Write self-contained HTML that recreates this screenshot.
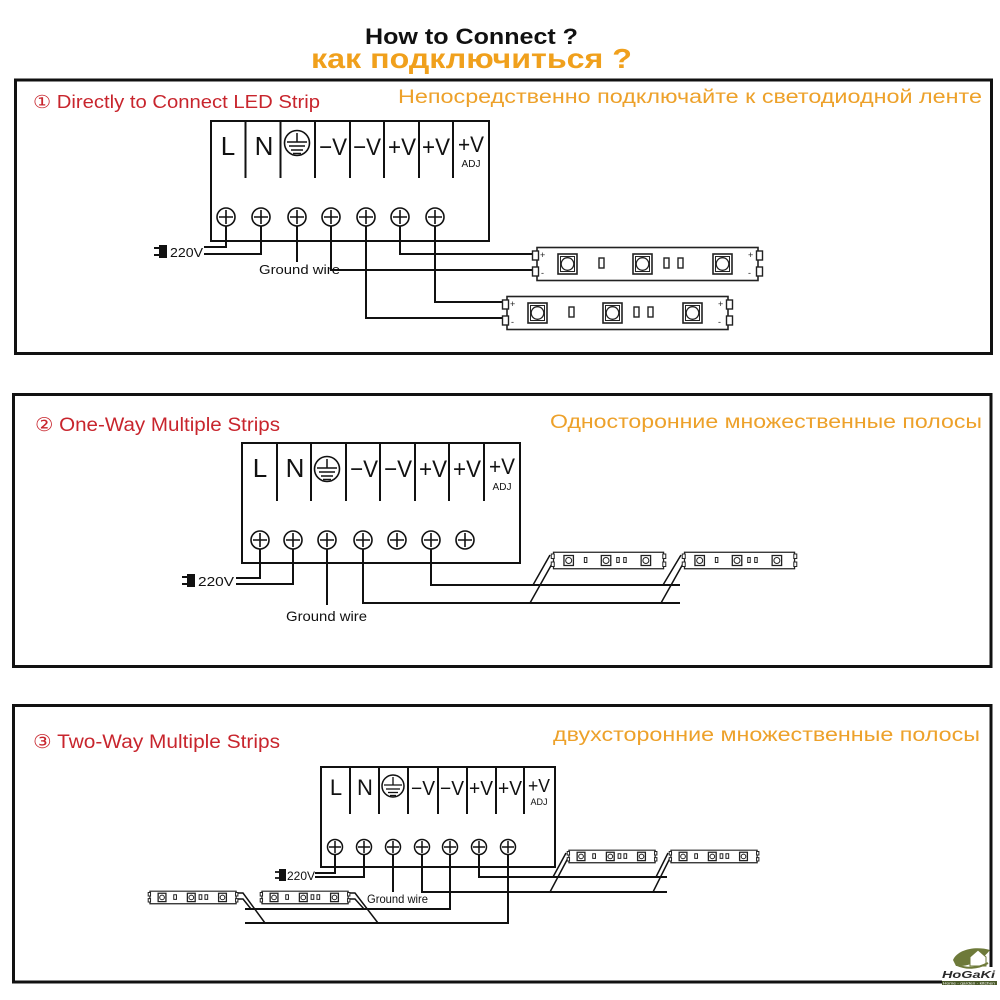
<!DOCTYPE html>
<html><head><meta charset="utf-8"><style>
html,body{margin:0;padding:0;background:#fff;}
svg{display:block;}
text{font-family:"Liberation Sans","DejaVu Sans",sans-serif;}
</style></head><body>
<svg width="1000" height="1000" viewBox="0 0 1000 1000" xmlns="http://www.w3.org/2000/svg">
<rect width="1000" height="1000" fill="#fff"/>

<!-- Titles -->
<text x="365" y="44" font-size="22" font-weight="bold" fill="#111" textLength="213" lengthAdjust="spacingAndGlyphs">How to Connect ?</text>
<text x="311" y="68" font-size="28" font-weight="bold" fill="#f0a01c" textLength="321" lengthAdjust="spacingAndGlyphs">как подключиться ?</text>

<!-- Panel frames -->
<rect x="15.5" y="80" width="976" height="273.5" fill="none" stroke="#111" stroke-width="3"/>
<rect x="13.5" y="394.5" width="977.5" height="272" fill="none" stroke="#111" stroke-width="3"/>
<rect x="13.5" y="705.5" width="977.5" height="276.5" fill="none" stroke="#111" stroke-width="3"/>

<!-- Panel titles -->
<text x="33" y="108" font-size="18" fill="#c8252d" textLength="287" lengthAdjust="spacingAndGlyphs">① Directly to Connect LED Strip</text>
<text x="398" y="103" font-size="19" fill="#eda12a" textLength="584" lengthAdjust="spacingAndGlyphs">Непосредственно подключайте к светодиодной ленте</text>
<text x="35" y="431" font-size="19" fill="#c8252d" textLength="245" lengthAdjust="spacingAndGlyphs">② One-Way Multiple Strips</text>
<text x="550" y="428" font-size="19" fill="#eda12a" textLength="432" lengthAdjust="spacingAndGlyphs">Односторонние множественные полосы</text>
<text x="33" y="748" font-size="19" fill="#c8252d" textLength="247" lengthAdjust="spacingAndGlyphs">③ Two-Way Multiple Strips</text>
<text x="553" y="741" font-size="19" fill="#eda12a" textLength="427" lengthAdjust="spacingAndGlyphs">двухсторонние множественные полосы</text>

<!-- ============ PANEL 1 ============ -->
<g stroke="#111" fill="none">
<rect x="211" y="121" width="278" height="120" stroke-width="2"/>
<g stroke-width="2">
<line x1="245.5" y1="121" x2="245.5" y2="178"/>
<line x1="280.5" y1="121" x2="280.5" y2="178"/>
<line x1="315" y1="121" x2="315" y2="178"/>
<line x1="350" y1="121" x2="350" y2="178"/>
<line x1="384" y1="121" x2="384" y2="178"/>
<line x1="419" y1="121" x2="419" y2="178"/>
<line x1="453" y1="121" x2="453" y2="178"/>
</g>
<circle cx="297" cy="143" r="12.5" stroke-width="1.6"/>
<g stroke-width="1.5">
<line x1="297" y1="133" x2="297" y2="142"/>
<line x1="287" y1="142" x2="307" y2="142"/>
<line x1="289" y1="146" x2="305" y2="146"/>
<line x1="291" y1="150" x2="303" y2="150"/>
<line x1="293" y1="153.5" x2="301" y2="153.5"/>
</g>
<g stroke-width="1.6">
<circle cx="226" cy="217" r="9"/><path d="M219 217h14M226 210v14"/>
<circle cx="261" cy="217" r="9"/><path d="M254 217h14M261 210v14"/>
<circle cx="297" cy="217" r="9"/><path d="M290 217h14M297 210v14"/>
<circle cx="331" cy="217" r="9"/><path d="M324 217h14M331 210v14"/>
<circle cx="366" cy="217" r="9"/><path d="M359 217h14M366 210v14"/>
<circle cx="400" cy="217" r="9"/><path d="M393 217h14M400 210v14"/>
<circle cx="435" cy="217" r="9"/><path d="M428 217h14M435 210v14"/>
</g>
<g stroke-width="2">
<polyline points="226,226 226,247 204,247"/>
<polyline points="261,226 261,254 204,254"/>
<polyline points="297,226 297,262"/>
<polyline points="331,226 331,270 533,270"/>
<polyline points="366,226 366,318 503,318"/>
<polyline points="400,226 400,254 533,254"/>
<polyline points="435,226 435,302 503,302"/>
</g>
</g>
<g fill="#111" text-anchor="middle">
<text x="228" y="155" font-size="26">L</text>
<text x="264" y="155" font-size="26">N</text>
<text x="333" y="155" font-size="24" textLength="28" lengthAdjust="spacingAndGlyphs">−V</text>
<text x="367" y="155" font-size="24" textLength="28" lengthAdjust="spacingAndGlyphs">−V</text>
<text x="402" y="155" font-size="24" textLength="28" lengthAdjust="spacingAndGlyphs">+V</text>
<text x="436" y="155" font-size="24" textLength="28" lengthAdjust="spacingAndGlyphs">+V</text>
<text x="471" y="152" font-size="22" textLength="26" lengthAdjust="spacingAndGlyphs">+V</text>
<text x="471" y="167" font-size="10">ADJ</text>
</g>
<rect x="159" y="245" width="8" height="13" fill="#111"/>
<path d="M154 248h5M154 255h5" stroke="#111" stroke-width="2"/>
<text x="170" y="257" font-size="13" fill="#111" textLength="33" lengthAdjust="spacingAndGlyphs">220V</text>
<text x="259" y="274" font-size="13" fill="#111" textLength="81" lengthAdjust="spacingAndGlyphs">Ground wire</text>

<!-- Panel 1 strips -->
<g transform="translate(532,247)" stroke="#222" fill="#fff">
<rect x="5" y="0.5" width="221" height="33" stroke-width="1.6"/>
<rect x="0.5" y="4" width="6" height="9" stroke-width="1.4"/>
<rect x="0.5" y="20" width="6" height="9" stroke-width="1.4"/>
<rect x="224.5" y="4" width="6" height="9" stroke-width="1.4"/>
<rect x="224.5" y="20" width="6" height="9" stroke-width="1.4"/>
<rect x="26" y="7" width="19" height="20" stroke-width="1.6"/><rect x="28.5" y="9.5" width="14" height="15" stroke-width="1"/><circle cx="35.5" cy="17" r="6.3" stroke-width="1.3"/>
<rect x="101" y="7" width="19" height="20" stroke-width="1.6"/><rect x="103.5" y="9.5" width="14" height="15" stroke-width="1"/><circle cx="110.5" cy="17" r="6.3" stroke-width="1.3"/>
<rect x="181" y="7" width="19" height="20" stroke-width="1.6"/><rect x="183.5" y="9.5" width="14" height="15" stroke-width="1"/><circle cx="190.5" cy="17" r="6.3" stroke-width="1.3"/>
<rect x="67" y="11" width="5" height="10" stroke-width="1.4"/>
<rect x="132" y="11" width="5" height="10" stroke-width="1.4"/>
<rect x="146" y="11" width="5" height="10" stroke-width="1.4"/>
<g stroke="none" fill="#222" font-size="9"><text x="8" y="11">+</text><text x="9" y="29">-</text><text x="216" y="11">+</text><text x="216" y="29">-</text></g>
</g>
<g transform="translate(502,296)" stroke="#222" fill="#fff">
<rect x="5" y="0.5" width="221" height="33" stroke-width="1.6"/>
<rect x="0.5" y="4" width="6" height="9" stroke-width="1.4"/>
<rect x="0.5" y="20" width="6" height="9" stroke-width="1.4"/>
<rect x="224.5" y="4" width="6" height="9" stroke-width="1.4"/>
<rect x="224.5" y="20" width="6" height="9" stroke-width="1.4"/>
<rect x="26" y="7" width="19" height="20" stroke-width="1.6"/><rect x="28.5" y="9.5" width="14" height="15" stroke-width="1"/><circle cx="35.5" cy="17" r="6.3" stroke-width="1.3"/>
<rect x="101" y="7" width="19" height="20" stroke-width="1.6"/><rect x="103.5" y="9.5" width="14" height="15" stroke-width="1"/><circle cx="110.5" cy="17" r="6.3" stroke-width="1.3"/>
<rect x="181" y="7" width="19" height="20" stroke-width="1.6"/><rect x="183.5" y="9.5" width="14" height="15" stroke-width="1"/><circle cx="190.5" cy="17" r="6.3" stroke-width="1.3"/>
<rect x="67" y="11" width="5" height="10" stroke-width="1.4"/>
<rect x="132" y="11" width="5" height="10" stroke-width="1.4"/>
<rect x="146" y="11" width="5" height="10" stroke-width="1.4"/>
<g stroke="none" fill="#222" font-size="9"><text x="8" y="11">+</text><text x="9" y="29">-</text><text x="216" y="11">+</text><text x="216" y="29">-</text></g>
</g>

<!-- ============ PANEL 2 ============ -->
<g stroke="#111" fill="none">
<rect x="242" y="443" width="278" height="120" stroke-width="2"/>
<g stroke-width="2">
<line x1="277" y1="443" x2="277" y2="501"/>
<line x1="311" y1="443" x2="311" y2="501"/>
<line x1="346" y1="443" x2="346" y2="501"/>
<line x1="380" y1="443" x2="380" y2="501"/>
<line x1="415" y1="443" x2="415" y2="501"/>
<line x1="449" y1="443" x2="449" y2="501"/>
<line x1="484" y1="443" x2="484" y2="501"/>
</g>
<circle cx="327" cy="469" r="12.5" stroke-width="1.6"/>
<g stroke-width="1.5">
<line x1="327" y1="459" x2="327" y2="468"/>
<line x1="317" y1="468" x2="337" y2="468"/>
<line x1="319" y1="472" x2="335" y2="472"/>
<line x1="321" y1="476" x2="333" y2="476"/>
<line x1="323" y1="479.5" x2="331" y2="479.5"/>
</g>
<g stroke-width="1.6">
<circle cx="260" cy="540" r="9"/><path d="M253 540h14M260 533v14"/>
<circle cx="293" cy="540" r="9"/><path d="M286 540h14M293 533v14"/>
<circle cx="327" cy="540" r="9"/><path d="M320 540h14M327 533v14"/>
<circle cx="363" cy="540" r="9"/><path d="M356 540h14M363 533v14"/>
<circle cx="397" cy="540" r="9"/><path d="M390 540h14M397 533v14"/>
<circle cx="431" cy="540" r="9"/><path d="M424 540h14M431 533v14"/>
<circle cx="465" cy="540" r="9"/><path d="M458 540h14M465 533v14"/>
</g>
<g stroke-width="2">
<polyline points="260,549 260,578 236,578"/>
<polyline points="293,549 293,584 236,584"/>
<polyline points="327,549 327,605"/>
<polyline points="363,549 363,603 680,603"/>
<polyline points="431,549 431,585 680,585"/>
</g>
<g stroke-width="1.5">
<line x1="550" y1="555" x2="533" y2="585"/>
<line x1="553" y1="562" x2="530" y2="603"/>
<line x1="681" y1="555" x2="663" y2="585"/>
<line x1="684" y1="562" x2="661" y2="603"/>
</g>
</g>
<g fill="#111" text-anchor="middle">
<text x="260" y="477" font-size="26">L</text>
<text x="295" y="477" font-size="26">N</text>
<text x="364" y="477" font-size="24" textLength="28" lengthAdjust="spacingAndGlyphs">−V</text>
<text x="398" y="477" font-size="24" textLength="28" lengthAdjust="spacingAndGlyphs">−V</text>
<text x="433" y="477" font-size="24" textLength="28" lengthAdjust="spacingAndGlyphs">+V</text>
<text x="467" y="477" font-size="24" textLength="28" lengthAdjust="spacingAndGlyphs">+V</text>
<text x="502" y="474" font-size="22" textLength="26" lengthAdjust="spacingAndGlyphs">+V</text>
<text x="502" y="490" font-size="10">ADJ</text>
</g>
<rect x="187" y="574" width="8" height="13" fill="#111"/>
<path d="M182 577h5M182 584h5" stroke="#111" stroke-width="2"/>
<text x="198" y="586" font-size="13" fill="#111" textLength="36" lengthAdjust="spacingAndGlyphs">220V</text>
<text x="286" y="621" font-size="14" fill="#111" textLength="81" lengthAdjust="spacingAndGlyphs">Ground wire</text>

<!-- Panel 2 strips -->
<g transform="translate(551,552) scale(0.498,0.5)" stroke="#222" fill="#fff">
<rect x="5" y="0.5" width="221" height="33" stroke-width="1.3" vector-effect="non-scaling-stroke"/>
<rect x="0.5" y="4" width="6" height="9" stroke-width="1" vector-effect="non-scaling-stroke"/>
<rect x="0.5" y="20" width="6" height="9" stroke-width="1" vector-effect="non-scaling-stroke"/>
<rect x="224.5" y="4" width="6" height="9" stroke-width="1" vector-effect="non-scaling-stroke"/>
<rect x="224.5" y="20" width="6" height="9" stroke-width="1" vector-effect="non-scaling-stroke"/>
<rect x="26" y="7" width="19" height="20" stroke-width="1.3" vector-effect="non-scaling-stroke"/><circle cx="35.5" cy="17" r="6" stroke-width="1" vector-effect="non-scaling-stroke"/>
<rect x="101" y="7" width="19" height="20" stroke-width="1.3" vector-effect="non-scaling-stroke"/><circle cx="110.5" cy="17" r="6" stroke-width="1" vector-effect="non-scaling-stroke"/>
<rect x="181" y="7" width="19" height="20" stroke-width="1.3" vector-effect="non-scaling-stroke"/><circle cx="190.5" cy="17" r="6" stroke-width="1" vector-effect="non-scaling-stroke"/>
<rect x="67" y="11" width="5" height="10" stroke-width="1" vector-effect="non-scaling-stroke"/>
<rect x="132" y="11" width="5" height="10" stroke-width="1" vector-effect="non-scaling-stroke"/>
<rect x="146" y="11" width="5" height="10" stroke-width="1" vector-effect="non-scaling-stroke"/>
</g>
<g transform="translate(682,552) scale(0.498,0.5)" stroke="#222" fill="#fff">
<rect x="5" y="0.5" width="221" height="33" stroke-width="1.3" vector-effect="non-scaling-stroke"/>
<rect x="0.5" y="4" width="6" height="9" stroke-width="1" vector-effect="non-scaling-stroke"/>
<rect x="0.5" y="20" width="6" height="9" stroke-width="1" vector-effect="non-scaling-stroke"/>
<rect x="224.5" y="4" width="6" height="9" stroke-width="1" vector-effect="non-scaling-stroke"/>
<rect x="224.5" y="20" width="6" height="9" stroke-width="1" vector-effect="non-scaling-stroke"/>
<rect x="26" y="7" width="19" height="20" stroke-width="1.3" vector-effect="non-scaling-stroke"/><circle cx="35.5" cy="17" r="6" stroke-width="1" vector-effect="non-scaling-stroke"/>
<rect x="101" y="7" width="19" height="20" stroke-width="1.3" vector-effect="non-scaling-stroke"/><circle cx="110.5" cy="17" r="6" stroke-width="1" vector-effect="non-scaling-stroke"/>
<rect x="181" y="7" width="19" height="20" stroke-width="1.3" vector-effect="non-scaling-stroke"/><circle cx="190.5" cy="17" r="6" stroke-width="1" vector-effect="non-scaling-stroke"/>
<rect x="67" y="11" width="5" height="10" stroke-width="1" vector-effect="non-scaling-stroke"/>
<rect x="132" y="11" width="5" height="10" stroke-width="1" vector-effect="non-scaling-stroke"/>
<rect x="146" y="11" width="5" height="10" stroke-width="1" vector-effect="non-scaling-stroke"/>
</g>

<!-- ============ PANEL 3 ============ -->
<g stroke="#111" fill="none">
<rect x="321" y="767" width="234" height="100" stroke-width="2"/>
<g stroke-width="2">
<line x1="350" y1="767" x2="350" y2="814"/>
<line x1="379" y1="767" x2="379" y2="814"/>
<line x1="408" y1="767" x2="408" y2="814"/>
<line x1="438" y1="767" x2="438" y2="814"/>
<line x1="467" y1="767" x2="467" y2="814"/>
<line x1="496" y1="767" x2="496" y2="814"/>
<line x1="524" y1="767" x2="524" y2="814"/>
</g>
<circle cx="393" cy="786" r="11" stroke-width="1.5"/>
<g stroke-width="1.3">
<line x1="393" y1="777" x2="393" y2="785"/>
<line x1="384" y1="785" x2="402" y2="785"/>
<line x1="386" y1="789" x2="400" y2="789"/>
<line x1="388" y1="792.5" x2="398" y2="792.5"/>
<line x1="390" y1="795.5" x2="396" y2="795.5"/>
</g>
<g stroke-width="1.5">
<circle cx="335" cy="847" r="7.5"/><path d="M329 847h12M335 841v12"/>
<circle cx="364" cy="847" r="7.5"/><path d="M358 847h12M364 841v12"/>
<circle cx="393" cy="847" r="7.5"/><path d="M387 847h12M393 841v12"/>
<circle cx="422" cy="847" r="7.5"/><path d="M416 847h12M422 841v12"/>
<circle cx="450" cy="847" r="7.5"/><path d="M444 847h12M450 841v12"/>
<circle cx="479" cy="847" r="7.5"/><path d="M473 847h12M479 841v12"/>
<circle cx="508" cy="847" r="7.5"/><path d="M502 847h12M508 841v12"/>
</g>
<g stroke-width="2">
<polyline points="335,855 335,873 315,873"/>
<polyline points="364,855 364,877 315,877"/>
<polyline points="393,855 393,892"/>
<polyline points="422,855 422,892 667,892"/>
<polyline points="450,855 450,909 245,909"/>
<polyline points="479,855 479,877 667,877"/>
<polyline points="508,855 508,923 245,923"/>
</g>
<g stroke-width="1.5">
<polyline points="238,893 243,893 265,923"/>
<polyline points="238,899 243,899 251,909"/>
<polyline points="350,893 355,893 378,923"/>
<polyline points="350,899 355,899 364,909"/>
<line x1="566" y1="853" x2="553" y2="877"/>
<line x1="568" y1="858" x2="550" y2="892"/>
<line x1="668" y1="853" x2="656" y2="877"/>
<line x1="670" y1="858" x2="653" y2="892"/>
</g>
</g>
<g fill="#111" text-anchor="middle">
<text x="336" y="795" font-size="22">L</text>
<text x="365" y="795" font-size="22">N</text>
<text x="423" y="795" font-size="20" textLength="24" lengthAdjust="spacingAndGlyphs">−V</text>
<text x="452" y="795" font-size="20" textLength="24" lengthAdjust="spacingAndGlyphs">−V</text>
<text x="481" y="795" font-size="20" textLength="24" lengthAdjust="spacingAndGlyphs">+V</text>
<text x="510" y="795" font-size="20" textLength="24" lengthAdjust="spacingAndGlyphs">+V</text>
<text x="539" y="792" font-size="18" textLength="22" lengthAdjust="spacingAndGlyphs">+V</text>
<text x="539" y="805" font-size="9">ADJ</text>
</g>
<rect x="279" y="869" width="7" height="12" fill="#111"/>
<path d="M275 872h4M275 878h4" stroke="#111" stroke-width="1.8"/>
<text x="287" y="880" font-size="12" fill="#111" textLength="28" lengthAdjust="spacingAndGlyphs">220V</text>
<text x="367" y="903" font-size="12" fill="#111" textLength="61" lengthAdjust="spacingAndGlyphs">Ground wire</text>

<!-- Panel 3 strips -->
<g transform="translate(148,891) scale(0.39,0.38)" stroke="#222" fill="#fff">
<rect x="5" y="0.5" width="221" height="33" stroke-width="1.2" vector-effect="non-scaling-stroke"/>
<rect x="0.5" y="4" width="6" height="9" stroke-width="1" vector-effect="non-scaling-stroke"/>
<rect x="0.5" y="20" width="6" height="9" stroke-width="1" vector-effect="non-scaling-stroke"/>
<rect x="224.5" y="4" width="6" height="9" stroke-width="1" vector-effect="non-scaling-stroke"/>
<rect x="224.5" y="20" width="6" height="9" stroke-width="1" vector-effect="non-scaling-stroke"/>
<rect x="26" y="6" width="20" height="22" stroke-width="1.3" vector-effect="non-scaling-stroke"/><circle cx="36" cy="17" r="6" stroke-width="1" vector-effect="non-scaling-stroke"/>
<rect x="101" y="6" width="20" height="22" stroke-width="1.3" vector-effect="non-scaling-stroke"/><circle cx="111" cy="17" r="6" stroke-width="1" vector-effect="non-scaling-stroke"/>
<rect x="181" y="6" width="20" height="22" stroke-width="1.3" vector-effect="non-scaling-stroke"/><circle cx="191" cy="17" r="6" stroke-width="1" vector-effect="non-scaling-stroke"/>
<rect x="66" y="10" width="7" height="12" stroke-width="1" vector-effect="non-scaling-stroke"/>
<rect x="131" y="10" width="7" height="12" stroke-width="1" vector-effect="non-scaling-stroke"/>
<rect x="146" y="10" width="7" height="12" stroke-width="1" vector-effect="non-scaling-stroke"/>
</g>
<g transform="translate(260,891) scale(0.39,0.38)" stroke="#222" fill="#fff">
<rect x="5" y="0.5" width="221" height="33" stroke-width="1.2" vector-effect="non-scaling-stroke"/>
<rect x="0.5" y="4" width="6" height="9" stroke-width="1" vector-effect="non-scaling-stroke"/>
<rect x="0.5" y="20" width="6" height="9" stroke-width="1" vector-effect="non-scaling-stroke"/>
<rect x="224.5" y="4" width="6" height="9" stroke-width="1" vector-effect="non-scaling-stroke"/>
<rect x="224.5" y="20" width="6" height="9" stroke-width="1" vector-effect="non-scaling-stroke"/>
<rect x="26" y="6" width="20" height="22" stroke-width="1.3" vector-effect="non-scaling-stroke"/><circle cx="36" cy="17" r="6" stroke-width="1" vector-effect="non-scaling-stroke"/>
<rect x="101" y="6" width="20" height="22" stroke-width="1.3" vector-effect="non-scaling-stroke"/><circle cx="111" cy="17" r="6" stroke-width="1" vector-effect="non-scaling-stroke"/>
<rect x="181" y="6" width="20" height="22" stroke-width="1.3" vector-effect="non-scaling-stroke"/><circle cx="191" cy="17" r="6" stroke-width="1" vector-effect="non-scaling-stroke"/>
<rect x="66" y="10" width="7" height="12" stroke-width="1" vector-effect="non-scaling-stroke"/>
<rect x="131" y="10" width="7" height="12" stroke-width="1" vector-effect="non-scaling-stroke"/>
<rect x="146" y="10" width="7" height="12" stroke-width="1" vector-effect="non-scaling-stroke"/>
</g>
<g transform="translate(567,850) scale(0.39,0.38)" stroke="#222" fill="#fff">
<rect x="5" y="0.5" width="221" height="33" stroke-width="1.2" vector-effect="non-scaling-stroke"/>
<rect x="0.5" y="4" width="6" height="9" stroke-width="1" vector-effect="non-scaling-stroke"/>
<rect x="0.5" y="20" width="6" height="9" stroke-width="1" vector-effect="non-scaling-stroke"/>
<rect x="224.5" y="4" width="6" height="9" stroke-width="1" vector-effect="non-scaling-stroke"/>
<rect x="224.5" y="20" width="6" height="9" stroke-width="1" vector-effect="non-scaling-stroke"/>
<rect x="26" y="6" width="20" height="22" stroke-width="1.3" vector-effect="non-scaling-stroke"/><circle cx="36" cy="17" r="6" stroke-width="1" vector-effect="non-scaling-stroke"/>
<rect x="101" y="6" width="20" height="22" stroke-width="1.3" vector-effect="non-scaling-stroke"/><circle cx="111" cy="17" r="6" stroke-width="1" vector-effect="non-scaling-stroke"/>
<rect x="181" y="6" width="20" height="22" stroke-width="1.3" vector-effect="non-scaling-stroke"/><circle cx="191" cy="17" r="6" stroke-width="1" vector-effect="non-scaling-stroke"/>
<rect x="66" y="10" width="7" height="12" stroke-width="1" vector-effect="non-scaling-stroke"/>
<rect x="131" y="10" width="7" height="12" stroke-width="1" vector-effect="non-scaling-stroke"/>
<rect x="146" y="10" width="7" height="12" stroke-width="1" vector-effect="non-scaling-stroke"/>
</g>
<g transform="translate(669,850) scale(0.39,0.38)" stroke="#222" fill="#fff">
<rect x="5" y="0.5" width="221" height="33" stroke-width="1.2" vector-effect="non-scaling-stroke"/>
<rect x="0.5" y="4" width="6" height="9" stroke-width="1" vector-effect="non-scaling-stroke"/>
<rect x="0.5" y="20" width="6" height="9" stroke-width="1" vector-effect="non-scaling-stroke"/>
<rect x="224.5" y="4" width="6" height="9" stroke-width="1" vector-effect="non-scaling-stroke"/>
<rect x="224.5" y="20" width="6" height="9" stroke-width="1" vector-effect="non-scaling-stroke"/>
<rect x="26" y="6" width="20" height="22" stroke-width="1.3" vector-effect="non-scaling-stroke"/><circle cx="36" cy="17" r="6" stroke-width="1" vector-effect="non-scaling-stroke"/>
<rect x="101" y="6" width="20" height="22" stroke-width="1.3" vector-effect="non-scaling-stroke"/><circle cx="111" cy="17" r="6" stroke-width="1" vector-effect="non-scaling-stroke"/>
<rect x="181" y="6" width="20" height="22" stroke-width="1.3" vector-effect="non-scaling-stroke"/><circle cx="191" cy="17" r="6" stroke-width="1" vector-effect="non-scaling-stroke"/>
<rect x="66" y="10" width="7" height="12" stroke-width="1" vector-effect="non-scaling-stroke"/>
<rect x="131" y="10" width="7" height="12" stroke-width="1" vector-effect="non-scaling-stroke"/>
<rect x="146" y="10" width="7" height="12" stroke-width="1" vector-effect="non-scaling-stroke"/>
</g>

<!-- Logo -->
<rect x="942" y="967" width="58" height="33" fill="#fff"/>
<path d="M953 960 C958 949, 976 946, 990 950 C984 958, 972 967, 956 966 Z" fill="#6e7a3a"/>
<path d="M970 957 L978 950 L986 957 L986 966 L970 966 Z" fill="#fff" stroke="#6e7a3a" stroke-width="1"/>
<path d="M957 965 C966 969, 977 969, 988 963" stroke="#6e7a3a" stroke-width="2" fill="none"/>
<text x="942" y="978" font-size="10" font-weight="bold" font-style="italic" fill="#2a2a2a" font-family="Liberation Serif, serif" textLength="53" lengthAdjust="spacingAndGlyphs">HoGaKi</text>
<rect x="942" y="981" width="55" height="4" fill="#4a5a2a"/>
<text x="943" y="984.5" font-size="3.5" fill="#fff" textLength="52" lengthAdjust="spacingAndGlyphs">Home - garden - kitchen</text>
</svg>
</body></html>
